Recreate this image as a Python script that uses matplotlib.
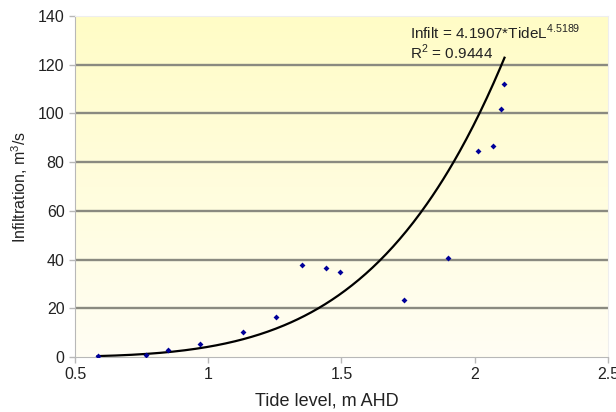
import numpy as np
import matplotlib
matplotlib.use('Agg')
import matplotlib.pyplot as plt
from matplotlib.colors import LinearSegmentedColormap

plt.rcParams['font.family'] = ['Liberation Sans', 'DejaVu Sans']
plt.rcParams['mathtext.fontset'] = 'custom'
plt.rcParams['mathtext.rm'] = 'Liberation Sans'

# data
tide_level = [0.585, 0.768, 0.849, 0.969, 1.132, 1.256, 1.353, 1.441, 1.494,
              1.733, 1.901, 2.011, 2.070, 2.099, 2.112]
infiltration = [0.3, 1.0, 2.9, 5.3, 10.2, 16.5, 37.8, 36.6, 34.8,
                23.6, 40.5, 84.6, 86.8, 101.7, 111.9]

# power trendline coefficients (from the chart label)
coef_a = 4.1907
coef_b = 4.5189
r_squared = 0.9444

fig = plt.figure(figsize=(6.16, 4.12), dpi=100)
ax = fig.add_axes([0.1218, 0.1335, 0.865, 0.8275])

# yellow-to-white background gradient
cmap = LinearSegmentedColormap.from_list('bg', ['#fffef4', '#fffcc6'])
grad = np.linspace(0, 1, 256).reshape(-1, 1)
ax.imshow(grad, extent=[0, 1, 0, 1], transform=ax.transAxes, cmap=cmap,
          origin='lower', aspect='auto', zorder=0)

for yv in range(20, 140, 20):
    ax.axhline(yv, color='#8a8a80', linewidth=1.7, zorder=1)

xs = np.linspace(min(tide_level), max(tide_level), 300)
ax.plot(xs, coef_a * xs ** coef_b, color='black', linewidth=1.6, zorder=2)
ax.scatter(tide_level, infiltration, marker='D', s=9, color='#000099',
           linewidths=0, zorder=3)

ax.set_xlim(0.5, 2.5)
ax.set_ylim(0, 140)
ax.set_xticks([0.5, 1, 1.5, 2, 2.5])
ax.set_xticklabels(['0.5', '1', '1.5', '2', '2.5'])
ax.set_yticks(range(0, 141, 20))

for side in ['left', 'bottom']:
    ax.spines[side].set_color('#b8b8b8')
for side in ['top', 'right']:
    ax.spines[side].set_color('#eeeeee')
ax.tick_params(axis='both', colors='#b8b8b8', labelcolor='#222222',
               labelsize=11.5, length=4, width=1)

ax.set_xlabel('Tide level, m AHD', fontsize=13, color='#222222')
ax.xaxis.set_label_coords(0.473, -0.105)
ax.set_ylabel(r'Infiltration, m$^{3}$/s', fontsize=11.5, color='#222222', labelpad=6)

ax.text(1.757, 130.6, r'Infilt = 4.1907*TideL$^{\mathregular{4.5189}}$',
        fontsize=11, color='#222222', va='baseline')
ax.text(1.757, 122.4, 'R$^{2}$ = %.4f' % r_squared,
        fontsize=11, color='#222222', va='baseline')

fig.savefig('out.png', dpi=100)
